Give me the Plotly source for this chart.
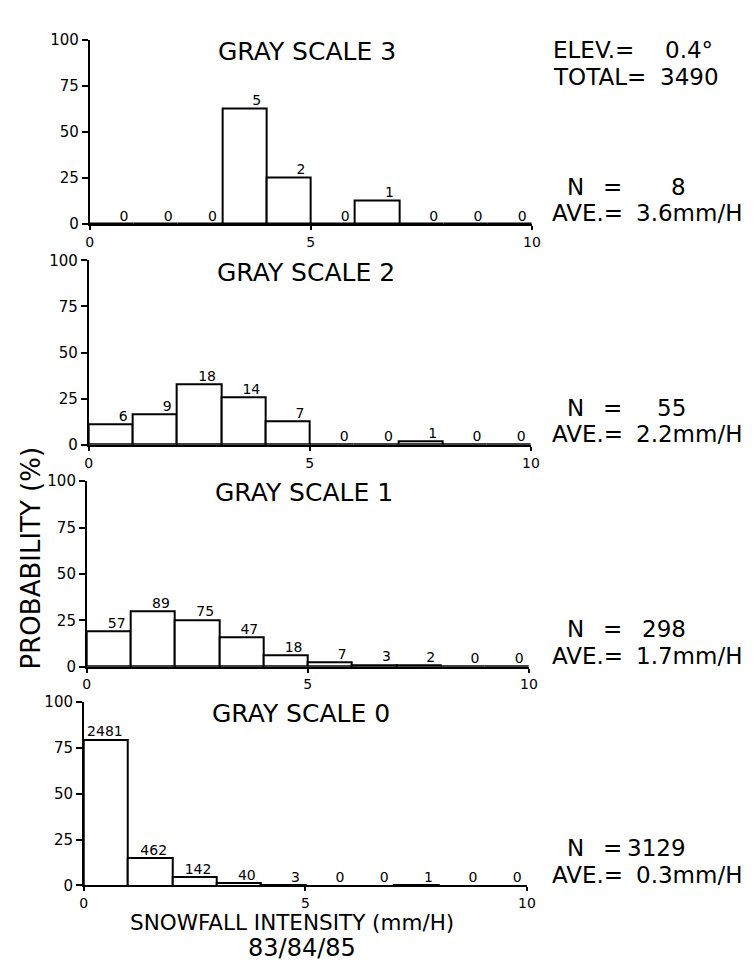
import plotly.graph_objects as go

W, H = 754, 965

bin_left = [0, 1, 2, 3, 4, 5, 6, 7, 8, 9]
bin_center = [0.5, 1.5, 2.5, 3.5, 4.5, 5.5, 6.5, 7.5, 8.5, 9.5]

gs_names = ["GRAY SCALE 3", "GRAY SCALE 2", "GRAY SCALE 1", "GRAY SCALE 0"]

counts_gs3 = [0, 0, 0, 5, 2, 0, 1, 0, 0, 0]
counts_gs2 = [6, 9, 18, 14, 7, 0, 0, 1, 0, 0]
counts_gs1 = [57, 89, 75, 47, 18, 7, 3, 2, 0, 0]
counts_gs0 = [2481, 462, 142, 40, 3, 0, 0, 1, 0, 0]

prob_gs3 = [0, 0, 0, 62.5, 25.0, 0, 12.5, 0, 0, 0]
prob_gs2 = [10.9, 16.4, 32.7, 25.5, 12.7, 0, 0, 1.8, 0, 0]
prob_gs1 = [19.1, 29.9, 25.2, 15.8, 6.0, 2.3, 1.0, 0.7, 0, 0]
prob_gs0 = [79.3, 14.8, 4.5, 1.3, 0.1, 0, 0, 0.03, 0, 0]

n_values = ["8", "55", "298", "3129"]
ave_values = ["3.6mm/H", "2.2mm/H", "1.7mm/H", "0.3mm/H"]

y_ticks = [0, 25, 50, 75, 100]
x_ticks = [0, 5, 10]

elev_text = "0.4°"
total_text = "3490"

counts = [counts_gs3, counts_gs2, counts_gs1, counts_gs0]
probs = [prob_gs3, prob_gs2, prob_gs1, prob_gs0]

# panel geometry in pixels (x0, x10, ytop, ybottom)
panels = [(79, 529, 23, 211), (78, 528, 248, 436), (76, 526, 473, 662), (73, 524, 698, 885)]

FONT = "DejaVu Sans"
RS = 23  # right-side text size


def px(x):
    return x / W


def py(y):
    return 1 - y / H


def ann(text, x, y, size, xanchor="left", yanchor="middle", angle=0):
    return dict(text=text, x=px(x), y=py(y), xref="paper", yref="paper",
                xanchor=xanchor, yanchor=yanchor, showarrow=False, textangle=angle,
                font=dict(family=FONT, size=size, color="black"))


fig = go.Figure()
annotations = []
layout_axes = {}

for i in range(4):
    x0, x10, yt, yb = panels[i]
    xa = "x" if i == 0 else f"x{i+1}"
    ya = "y" if i == 0 else f"y{i+1}"
    fig.add_trace(go.Bar(
        x=bin_center, y=probs[i], width=1,
        marker=dict(color="white", line=dict(color="black", width=2)),
        xaxis=xa, yaxis=ya, showlegend=False, hoverinfo="skip",
    ))
    fig.add_trace(go.Scatter(
        x=[b + 0.88 for b in bin_left], y=probs[i],
        mode="text", text=[str(c) for c in counts[i]],
        textposition="top left",
        textfont=dict(family=FONT, size=14, color="black"),
        xaxis=xa, yaxis=ya, showlegend=False, hoverinfo="skip", cliponaxis=False,
    ))
    xkey = "xaxis" if i == 0 else f"xaxis{i+1}"
    ykey = "yaxis" if i == 0 else f"yaxis{i+1}"
    layout_axes[xkey] = dict(
        domain=[px(x0), px(x10)], range=[0, 10], anchor=ya,
        tickvals=x_ticks, ticktext=[str(t) for t in x_ticks],
        ticks="outside", ticklen=4, tickwidth=2, tickcolor="black",
        showline=True, linecolor="black", linewidth=2,
        showgrid=False, zeroline=False,
        tickfont=dict(family=FONT, size=14, color="black"),
    )
    layout_axes[ykey] = dict(
        domain=[py(yb), py(yt)], range=[0, 100], anchor=xa,
        tickvals=y_ticks, ticktext=[str(t) for t in y_ticks],
        ticks="outside", ticklen=6, tickwidth=2, tickcolor="black",
        showline=True, linecolor="black", linewidth=1.5,
        showgrid=False, zeroline=False,
        tickfont=dict(family=FONT, size=15, color="black"),
    )
    # panel title
    annotations.append(ann(gs_names[i], x0 + 221, yt + 12, 25, xanchor="center"))
    # N and AVE
    annotations.append(ann("N", 563, yb - 38, RS))
    annotations.append(ann("=", 611, yb - 38, RS, xanchor="center"))
    annotations.append(ann(n_values[i], 688, yb - 38, RS, xanchor="right"))
    annotations.append(ann("AVE.=", 547, yb - 11, RS))
    annotations.append(ann(ave_values[i], 633, yb - 11, RS))

# top-right header
annotations += [
    ann("ELEV.=", 548, 34, RS),
    ann(elev_text, 662, 34, RS),
    ann("TOTAL=", 548, 61, RS),
    ann(total_text, 657, 61, RS),
    ann("PROBABILITY (%)", 19, 551, 26, xanchor="center", angle=-90),
    ann("SNOWFALL INTENSITY (mm/H)", 285, 922.5, 21.5, xanchor="center"),
    ann("83/84/85", 295, 964.5, 24, xanchor="center", yanchor="bottom"),
]

fig.update_layout(
    width=W, height=H,
    margin=dict(l=0, r=0, t=0, b=0),
    paper_bgcolor="white", plot_bgcolor="white",
    bargap=0, showlegend=False,
    annotations=annotations,
    font=dict(family=FONT, color="black"),
    **layout_axes,
)

fig.write_html("out.html")
